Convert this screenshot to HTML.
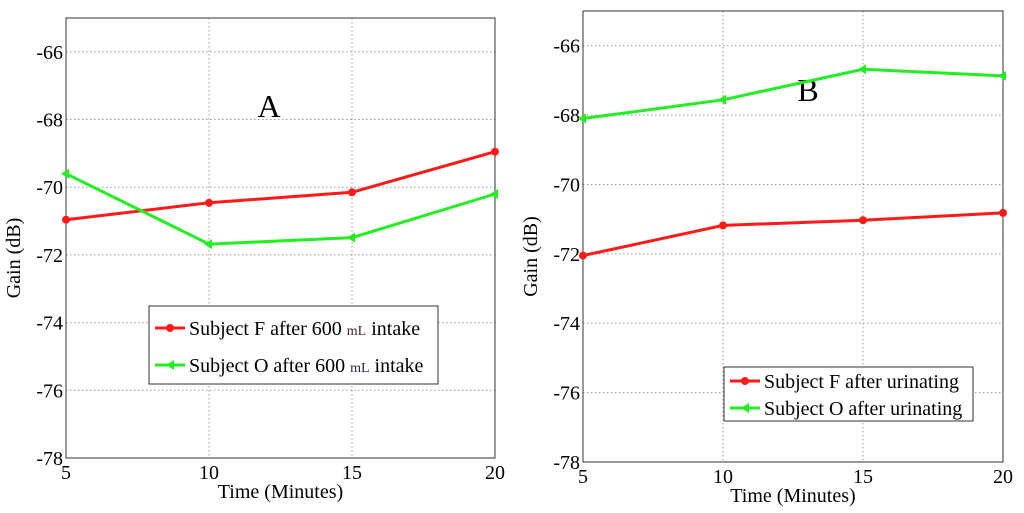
<!DOCTYPE html>
<html><head><meta charset="utf-8"><style>
body{margin:0;background:#fff;}
svg{display:block;font-family:"Liberation Serif",serif;}
</style></head><body>
<svg id="c" width="1024" height="513" xmlns="http://www.w3.org/2000/svg"></svg>
<script>
const xCats=[5,10,15,20];
const yTicks=[-66,-68,-70,-72,-74,-76,-78];
const aF=[-70.96,-70.46,-70.15,-68.95];
const aO=[-69.6,-71.68,-71.49,-70.2];
const bF=[-72.05,-71.18,-71.03,-70.82];
const bO=[-68.1,-67.56,-66.68,-66.87];
const legA=[["Subject F after 600 ","mL"," intake"],["Subject O after 600 ","mL"," intake"]];
const legB=[["Subject F after urinating","",""],["Subject O after urinating","",""]];
const NS="http://www.w3.org/2000/svg";
const svg=document.getElementById('c');
function mk(t,a,p){const e=document.createElementNS(NS,t);for(const k in a)e.setAttribute(k,a[k]);(p||svg).appendChild(e);return e;}
function panel(id,L,R,T,B,F,O,leg,letter,lx,ly,lg){
  const g=mk('g',{});
  
  
  const xs=v=>L+(v-5)/15*(R-L);
  const ys=v=>T+(-65-v)/13*(B-T);
  yTicks.forEach(t=>{
    const y=ys(t);
    const l=mk('line',{x1:L,x2:R,y1:y,y2:y,stroke:'#999','stroke-dasharray':'1.5,2.5','stroke-width':1},g);
    
    
    const tx=mk('text',{x:L-3,y:y+7,'text-anchor':'end','font-size':20},g);tx.textContent=t;
    
    
  });
  xCats.forEach(c=>{
    const x=xs(c);
    const l=mk('line',{x1:x,x2:x,y1:T,y2:B,stroke:'#999','stroke-dasharray':'1.5,2.5','stroke-width':1},g);
    
    
    const tx=mk('text',{x:x,y:B+21,'text-anchor':'middle','font-size':20},g);tx.textContent=c;
    
    
  });
  const fr=mk('rect',{x:L,y:T,width:R-L,height:B-T,fill:'none',stroke:'#333','stroke-width':1},g);
  
  
  const xt=mk('text',{x:(L+R)/2,y:B+40,'text-anchor':'middle','font-size':20},g);xt.textContent='Time (Minutes)';
  
  
  const yt=mk('text',{x:0,y:0,'text-anchor':'middle','font-size':20,transform:`translate(${L-46},${(T+B)/2+20}) rotate(-90)`},g);yt.textContent='Gain (dB)';
  
  
  const lt=mk('text',{x:lx,y:ly,'font-size':32,'text-anchor':'middle'},g);lt.textContent=letter;
  
  
  [[F,'#ff1a1a','circle'],[O,'#22ee22','tri']].forEach(([d,col,m],si)=>{
    const pts=d.map((v,i)=>xs(xCats[i])+','+ys(v)).join(' ');
    const pl=mk('polyline',{points:pts,fill:'none',stroke:col,'stroke-width':3},g);
    
    
    d.forEach((v,i)=>{
      const x=xs(xCats[i]),y=ys(v);
      const p=m=='circle'?mk('circle',{cx:x,cy:y,r:4,fill:col},g):mk('polygon',{points:`${x-5},${y} ${x+3},${y-5} ${x+3},${y+5}`,fill:col},g);
      
      
    });
  });
  const lr=mk('rect',{x:lg.x,y:lg.y,width:lg.w,height:lg.h,fill:'#fff',stroke:'#333'},g);
  
  
  leg.forEach((s,i)=>{
    const y=lg.y+lg.r0+i*lg.dy,col=i?'#22ee22':'#ff1a1a';
    const l=mk('line',{x1:lg.x+6,x2:lg.x+36,y1:y,y2:y,stroke:col,'stroke-width':3},g);
    
    
    const c=i?mk('polygon',{points:`${lg.x+17},${y} ${lg.x+25},${y-5} ${lg.x+25},${y+5}`,fill:col},g):mk('circle',{cx:lg.x+21,cy:y,r:4,fill:col},g);
    
    
    const t=mk('text',{x:lg.x+40,y:y+7,'font-size':20},g);
    
    
    const a=mk('tspan',{},t);a.textContent=s[0];
    if(s[1]){const b=mk('tspan',{'font-size':14,fill:i?'#224':'#422'},t);b.textContent=s[1];const c2=mk('tspan',{},t);c2.textContent=s[2];}
  });
}
panel('a',66,495,18,458,aF,aO,legA,'A',269,117,{x:149,y:306,w:289,h:78,r0:22,dy:37});
panel('b',583,1003,11,462,bF,bO,legB,'B',808,101,{x:724,y:367,w:249,h:54,r0:14,dy:27});
</script>
</body></html>
